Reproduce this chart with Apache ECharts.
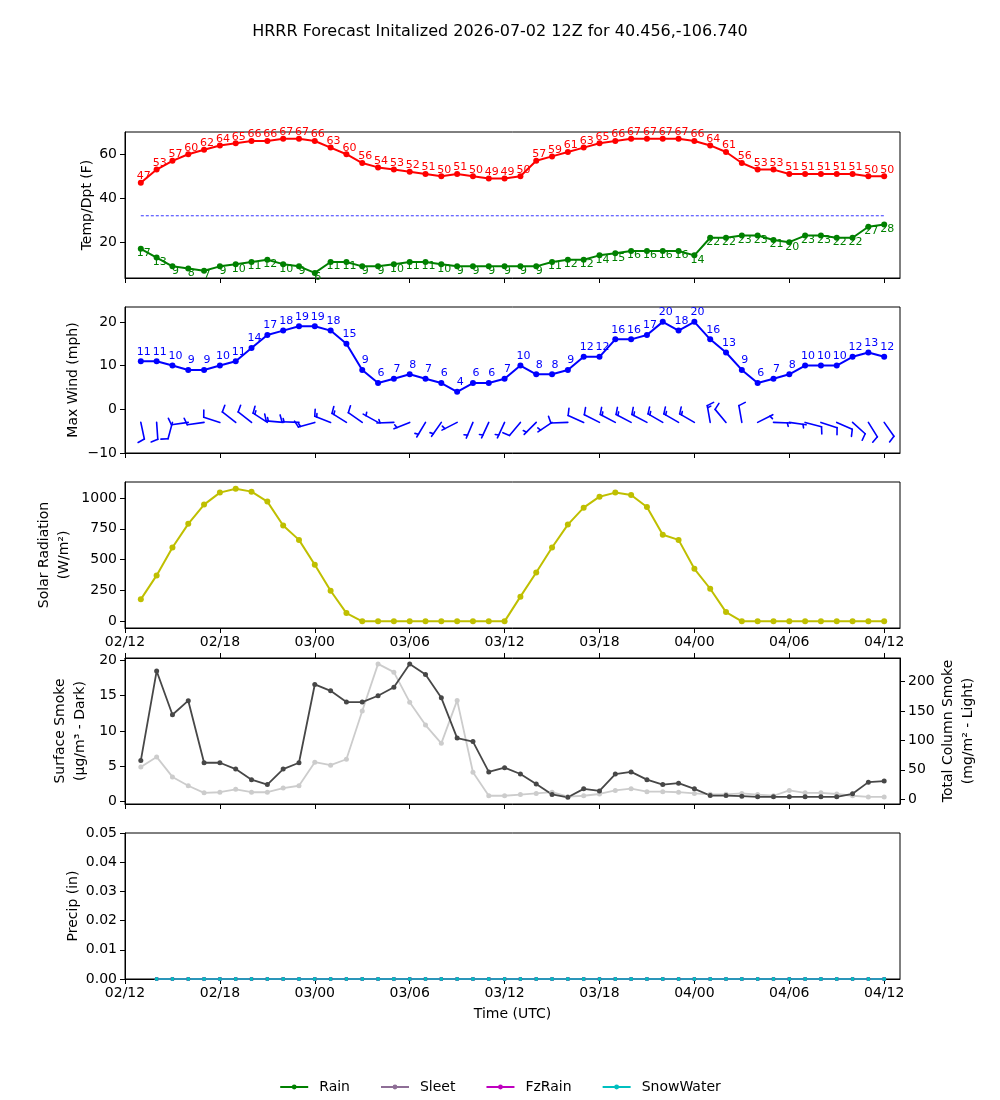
<!DOCTYPE html>
<html>
<head>
<meta charset="utf-8">
<script src="https://cdn.jsdelivr.net/npm/echarts@6/dist/echarts.min.js"></script>
<style>
  html, body { margin: 0; padding: 0; background: #fff; }
  #chart { width: 1000px; height: 1100px; }
</style>
</head>
<body>
<div id="chart"></div>
<script>
// forecast hours after 2026-07-02 12Z
const hours = [1,2,3,4,5,6,7,8,9,10,11,12,13,14,15,16,17,18,19,20,21,22,23,24,
  25,26,27,28,29,30,31,32,33,34,35,36,37,38,39,40,41,42,43,44,45,46,47,48]
const tickHours = [0,6,12,18,24,30,36,42,48]

const temp = [47,53,57,60,62,64,65,66,66,67,67,66, 63,60,56,54,53,52,51,50,51,50,49,49,
  50,57,59,61,63,65,66,67,67,67,67,66, 64,61,56,53,53,51,51,51,51,51,50,50]
const dewp = [17,13,9,8,7,9,10,11,12,10,9,6, 11,11,9,9,10,11,11,10,9,9,9,9,
  9,9,11,12,12,14,15,16,16,16,16,14, 22,22,23,23,21,20,23,23,22,22,27,28]
const freezeHours = [1, 48]
const freezeLine = [32, 32]

const wind = [11,11,10,9,9,10,11,14,17,18,19,19, 18,15,9,6,7,8,7,6,4,6,6,7,
  10,8,8,9,12,12,16,16,17,20,18,20, 16,13,9,6,7,8,10,10,10,12,13,12]
// direction the wind blows from (deg)
const windDir = [168,176,195,262,262,288,308,308,303,275,272,254, 291,302,305,299,268,248,211,215,243,203,205,205,
  220,225,236,268,294,297,298,298,298,300,300,300, 350,320,350,63,92,98,105,108,114,132,148,145]
const barbLevel = -3

const solar = [178,372,598,790,946,1043,1075,1051,970,776,660,458, 248,67,0,0,0,0,0,0,0,0,0,0,
  200,396,598,784,921,1010,1043,1024,927,701,660,426, 264,75,0,0,0,0,0,0,0,0,0,0]

const smokeSfc = [5.8,18.5,12.3,14.3,5.5,5.5,4.6,3.1,2.4,4.6,5.5,16.6, 15.7,14.1,14.1,15.0,16.2,19.5,18.0,14.7,9.0,8.5,4.2,4.8,
  3.9,2.5,1.0,0.6,1.8,1.5,3.9,4.2,3.1,2.4,2.6,1.8, 0.85,0.85,0.76,0.67,0.67,0.67,0.67,0.67,0.67,1.1,2.75,2.9]
const smokeCol = [55,72,38,23,11,12,17,12,12,19,23,63, 58,68,150,230,216,165,126,95,168,46,6,6,
  8,10,12,4.5,6,9,15,18,13,13,12,10, 8.5,8.5,10,8,6,15,11,11,9,6,4,4]

const precipHours = [2,3,4,5,6,7,8,9,10,11,12,13,14,15,16,17,18,19,20,21,22,23,24,
  25,26,27,28,29,30,31,32,33,34,35,36,37,38,39,40,41,42,43,44,45,46,47,48]
const rain = [0,0,0,0,0,0,0,0,0,0,0,0,0,0,0,0,0,0,0,0,0,0,0,0,0,0,0,0,0,0,0,0,0,0,0,0,0,0,0,0,0,0,0,0,0,0,0]
const sleet = [0,0,0,0,0,0,0,0,0,0,0,0,0,0,0,0,0,0,0,0,0,0,0,0,0,0,0,0,0,0,0,0,0,0,0,0,0,0,0,0,0,0,0,0,0,0,0]
const fzrain = [0,0,0,0,0,0,0,0,0,0,0,0,0,0,0,0,0,0,0,0,0,0,0,0,0,0,0,0,0,0,0,0,0,0,0,0,0,0,0,0,0,0,0,0,0,0,0]
const snowWater = [0,0,0,0,0,0,0,0,0,0,0,0,0,0,0,0,0,0,0,0,0,0,0,0,0,0,0,0,0,0,0,0,0,0,0,0,0,0,0,0,0,0,0,0,0,0,0]

const font = "DejaVu Sans"
const pad = n => (n < 10 ? "0" : "") + n
const hourLabel = h => {
  const t = 12 + h
  return pad(2 + Math.floor(t / 24)) + "/" + pad(t % 24)
}
const pairs = (xs, ys) => xs.map((x, i) => [x, ys[i]])
const plainNum = v => String(v).replace("-", "\u2212")

const tops = [132, 307, 482, 658, 833]
const grids = tops.map(t => ({
  left: 125, right: 100, top: t, height: 146,
  show: true, borderColor: "#000", borderWidth: 1, backgroundColor: "transparent",
}))

const xAxis = tops.map((t, i) => ({
  type: "value", gridIndex: i, min: 0, max: 49,
  axisLine: { show: true, onZero: false, lineStyle: { color: "#000" } },
  axisTick: { show: true, inside: false, length: 5, customValues: tickHours, lineStyle: { color: "#000" } },
  axisLabel: {
    show: i === 2 || i === 4, customValues: tickHours, formatter: v => hourLabel(v),
    color: "#000", fontSize: 14, fontFamily: font, margin: 7,
  },
  splitLine: { show: false },
  name: i === 4 ? "Time (UTC)" : "", nameLocation: "middle", nameGap: 28,
  nameTextStyle: { color: "#000", fontSize: 14, fontFamily: font },
}))
// the smoke panel also carries ticks along its top edge
xAxis.push({
  type: "value", gridIndex: 3, min: 0, max: 49, position: "top",
  axisLine: { show: true, onZero: false, lineStyle: { color: "#000" } },
  axisTick: { show: true, inside: false, length: 5, customValues: tickHours, lineStyle: { color: "#000" } },
  axisLabel: { show: false }, splitLine: { show: false },
})

const yBase = (grid, min, max, ticks, name, gap, fmt, pos) => ({
  type: "value", gridIndex: grid, min: min, max: max, position: pos || "left",
  axisLine: { show: true, onZero: false, lineStyle: { color: "#000" } },
  axisTick: { show: true, inside: false, length: 5, customValues: ticks, lineStyle: { color: "#000" } },
  axisLabel: { customValues: ticks, color: "#000", fontSize: 14, fontFamily: font, margin: 8, formatter: fmt || plainNum },
  splitLine: { show: false },
  name: name, nameLocation: "middle", nameGap: gap, nameRotate: 90, nameMoveOverlap: false,
  nameTextStyle: { color: "#000", fontSize: 14, fontFamily: font, lineHeight: 20 },
})

const yAxis = [
  yBase(0, 3.7, 70.1, [20, 40, 60], "Temp/Dpt (F)", 28),
  yBase(1, -10, 23.4, [-10, 0, 10, 20], "Max Wind (mph)", 42),
  yBase(2, -54, 1129, [0, 250, 500, 750, 1000], "Solar Radiation\n(W/m²)", 51),
  yBase(3, -0.35, 20.35, [0, 5, 10, 15, 20], "Surface Smoke\n(μg/m³ - Dark)", 35),
  yBase(3, -8, 240, [0, 50, 100, 150, 200], "Total Column Smoke\n(mg/m² - Light)", 38, null, "right"),
  yBase(4, 0, 0.05, [0, 0.01, 0.02, 0.03, 0.04, 0.05], "Precip (in)", 42, v => v.toFixed(2)),
]

const valLabel = (color, position, offset) => ({
  show: true, position: position, distance: 0, offset: offset,
  formatter: p => Math.round(p.value[1]), color: color, fontSize: 11, fontFamily: font,
})

const lineSeries = (name, xi, yi, data, color, width, size, extra) => Object.assign({
  name: name, type: "line", xAxisIndex: xi, yAxisIndex: yi, data: data,
  symbol: "circle", symbolSize: size, showSymbol: true, clip: false,
  itemStyle: { color: color }, lineStyle: { color: color, width: width },
  emphasis: { disabled: true }, animation: false,
}, extra || {})

// wind barbs, drawn the way matplotlib builds them (knots, rounded to 5)
const barbData = hours.map((h, i) => [h, barbLevel, windDir[i], wind[i]])
const renderBarb = (params, api) => {
  const p = api.coord([api.value(0), api.value(1)])
  const th = api.value(2) * Math.PI / 180
  const kt = Math.round(api.value(3) * 0.868976 / 5) * 5
  const nFull = Math.floor(kt / 10)
  const half = kt % 10 >= 5
  const L = 17, sp = 0.125 * L, fh = 0.4 * L, fw = 0.25 * L
  const sx = Math.sin(th), sy = -Math.cos(th)
  const qx = Math.cos(th), qy = Math.sin(th)
  const style = { stroke: "#0000ff", lineWidth: 1.6, lineCap: "round" }
  const at = o => [p[0] + o * sx, p[1] + o * sy]
  const kids = [{ type: "line", shape: { x1: p[0], y1: p[1], x2: p[0] + L * sx, y2: p[1] + L * sy }, style: style }]
  let off = L
  for (let k = 0; k < nFull; k++) {
    const a = at(off)
    kids.push({ type: "line", shape: { x1: a[0], y1: a[1], x2: a[0] + fh * qx + fw / 2 * sx, y2: a[1] + fh * qy + fw / 2 * sy }, style: style })
    off -= sp
  }
  if (half) {
    if (off === L) off -= 1.5 * sp
    const a = at(off)
    kids.push({ type: "line", shape: { x1: a[0], y1: a[1], x2: a[0] + fh / 2 * qx + fw / 4 * sx, y2: a[1] + fh / 2 * qy + fw / 4 * sy }, style: style })
  }
  return { type: "group", children: kids }
}

const series = [
  lineSeries("Freeze", 0, 0, pairs(freezeHours, freezeLine), "#0000ff", 0.8, 0,
    { symbol: "none", lineStyle: { color: "#0000ff", width: 0.8, type: [3, 2] } }),
  lineSeries("Temp", 0, 0, pairs(hours, temp), "#ff0000", 2, 6, { label: valLabel("#ff0000", "top", [3, 2]) }),
  lineSeries("Dewpt", 0, 0, pairs(hours, dewp), "#008000", 2, 6, { label: valLabel("#008000", "bottom", [3, -4]) }),
  lineSeries("Wind", 1, 1, pairs(hours, wind), "#0000ff", 2, 6, { label: valLabel("#0000ff", "top", [3, -1]) }),
  {
    name: "Barbs", type: "custom", xAxisIndex: 1, yAxisIndex: 1, data: barbData,
    renderItem: renderBarb, clip: false, animation: false, silent: true,
  },
  lineSeries("Solar", 2, 2, pairs(hours, solar), "#bfbf00", 2, 6),
  lineSeries("ColSmoke", 3, 4, pairs(hours, smokeCol), "#cccccc", 1.8, 5),
  lineSeries("SfcSmoke", 3, 3, pairs(hours, smokeSfc), "#474747", 1.8, 5),
  lineSeries("Rain", 4, 5, pairs(precipHours, rain), "#008000", 1.5, 4),
  lineSeries("Sleet", 4, 5, pairs(precipHours, sleet), "#8e6e96", 1.5, 4),
  lineSeries("FzRain", 4, 5, pairs(precipHours, fzrain), "#bf00bf", 1.5, 4),
  lineSeries("SnowWater", 4, 5, pairs(precipHours, snowWater), "#00bfbf", 1.5, 4),
]

const option = {
  backgroundColor: "#fff",
  animation: false,
  textStyle: { fontFamily: font },
  title: {
    text: "HRRR Forecast Initalized 2026-07-02 12Z for 40.456,-106.740",
    left: "center", top: 19,
    textStyle: { fontSize: 16, fontWeight: "normal", color: "#000", fontFamily: font },
  },
  legend: {
    data: ["Rain", "Sleet", "FzRain", "SnowWater"],
    left: "center", top: 1075, itemWidth: 28, itemHeight: 6, itemGap: 30,
    textStyle: { fontSize: 14, color: "#000", fontFamily: font, padding: [0, 0, 0, 6] },
  },
  grid: grids,
  xAxis: xAxis,
  yAxis: yAxis,
  series: series,
}

const chart = echarts.init(document.getElementById("chart"))
chart.setOption(option)
window.addEventListener("resize", () => chart.resize())
</script>
</body>
</html>
